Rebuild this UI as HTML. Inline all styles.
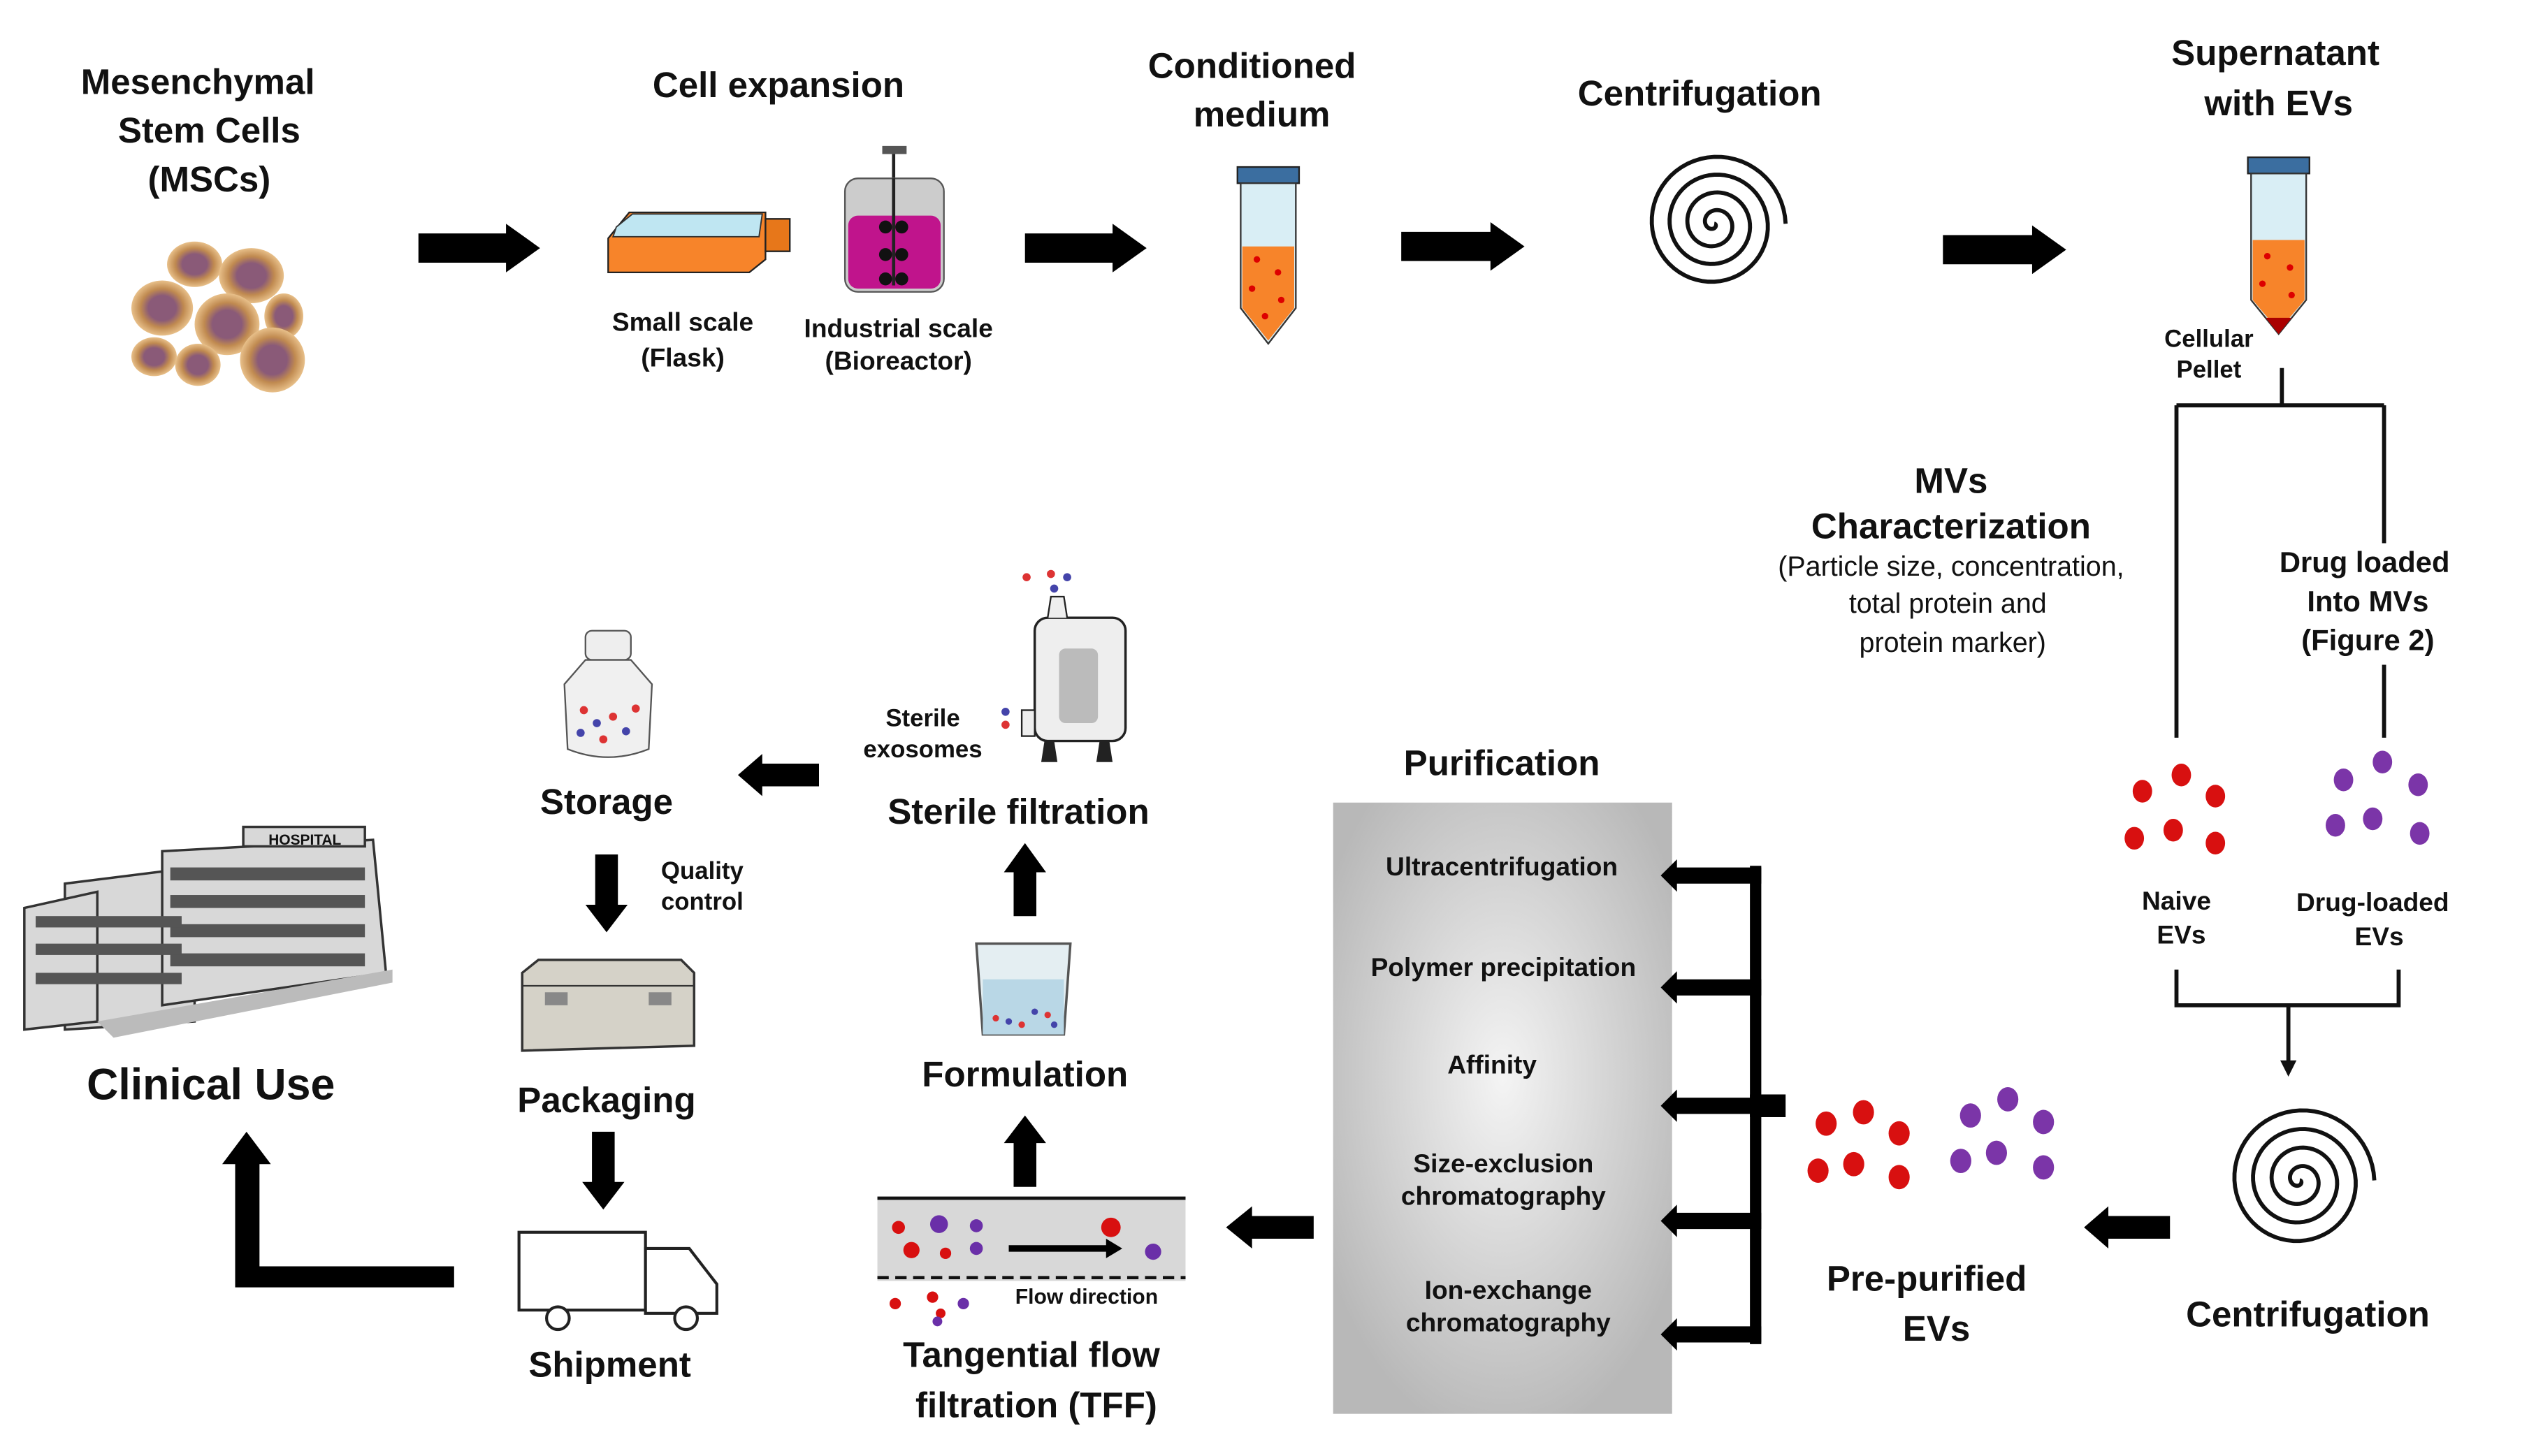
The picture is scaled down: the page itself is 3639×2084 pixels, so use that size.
<!DOCTYPE html>
<html><head><meta charset="utf-8"><style>
html,body{margin:0;padding:0;background:#fff;}
svg{display:block}
text{font-family:"Liberation Sans",Arial,sans-serif;font-weight:bold;fill:#111;text-anchor:middle}
.s{font-size:16px}.m{font-size:22px}.n{font-weight:normal;font-size:17px}
</style></head><body>
<svg width="3639" height="2084" viewBox="0 0 1568 898" preserveAspectRatio="none" xmlns="http://www.w3.org/2000/svg">
<defs>
<radialGradient id="g" cx="50%" cy="45%" r="60%"><stop offset="0" stop-color="#f4f4f4"/><stop offset="1" stop-color="#b8b8b8"/></radialGradient>
<radialGradient id="cell" cx="50%" cy="50%" r="50%"><stop offset="0.45" stop-color="#8a5a78"/><stop offset="0.7" stop-color="#c08a50"/><stop offset="1" stop-color="#e8c08a"/></radialGradient>
</defs>
<text class="m" x="122" y="58">Mesenchymal</text>
<text class="m" x="129" y="88">Stem Cells</text>
<text class="m" x="129" y="118">(MSCs)</text>
<text class="m" x="480" y="60">Cell  expansion</text>
<text class="m" x="772" y="48">Conditioned</text>
<text class="m" x="778" y="78">medium</text>
<text class="m" x="1048" y="65">Centrifugation</text>
<text class="m" x="1403" y="40">Supernatant</text>
<text class="m" x="1405" y="71">with EVs</text>
<g>
<ellipse cx="120" cy="163" rx="17" ry="14" fill="url(#cell)"/>
<ellipse cx="155" cy="170" rx="20" ry="17" fill="url(#cell)"/>
<ellipse cx="100" cy="190" rx="19" ry="17" fill="url(#cell)"/>
<ellipse cx="140" cy="200" rx="20" ry="19" fill="url(#cell)"/>
<ellipse cx="175" cy="195" rx="12" ry="14" fill="url(#cell)"/>
<ellipse cx="95" cy="220" rx="14" ry="12" fill="url(#cell)"/>
<ellipse cx="122" cy="225" rx="14" ry="13" fill="url(#cell)"/>
<ellipse cx="168" cy="222" rx="20" ry="20" fill="url(#cell)"/>
</g>
<g fill="#000">
<polygon points="258,144 312,144 312,138 333,153 312,168 312,162 258,162"/>
<polygon points="632,144 686,144 686,138 707,153 686,168 686,162 632,162"/>
<polygon points="864,143 919,143 919,137 940,152 919,167 919,161 864,161"/>
<polygon points="1198,145 1253,145 1253,139 1274,154 1253,169 1253,163 1198,163"/>
</g>
<polygon points="375,147 388,131 472,131 472,160 462,168 375,168" fill="#f7842a" stroke="#222"/>
<polygon points="380,140 390,132 470,132 468,146 378,146" fill="#bfe6f2" stroke="#333" stroke-width="0.8"/>
<rect x="472" y="135" width="15" height="20" fill="#e7771a" stroke="#222"/>
<text class="s" x="421" y="204">Small scale</text>
<text class="s" x="421" y="226">(Flask)</text>
<rect x="544" y="90" width="15" height="5" fill="#555"/>
<line x1="551" y1="95" x2="551" y2="176" stroke="#222" stroke-width="2"/>
<rect x="521" y="110" width="61" height="70" rx="8" fill="#ccc" stroke="#555"/>
<rect x="523" y="133" width="57" height="45" rx="6" fill="#c0148c"/>
<line x1="551" y1="110" x2="551" y2="176" stroke="#222" stroke-width="2"/>
<g fill="#111"><circle cx="546" cy="140" r="4"/><circle cx="556" cy="140" r="4"/><circle cx="546" cy="157" r="4"/><circle cx="556" cy="157" r="4"/><circle cx="546" cy="172" r="4"/><circle cx="556" cy="172" r="4"/></g>
<text class="s" x="554" y="208">Industrial scale</text>
<text class="s" x="554" y="228">(Bioreactor)</text>
<rect x="763" y="103" width="38" height="10" fill="#3b6ea0" stroke="#222"/>
<path d="M765,113 L799,113 L799,190 L782,212 L765,190 Z" fill="#d9eef5" stroke="#333"/>
<path d="M766,152 L798,152 L798,190 L782,210 L766,190 Z" fill="#f7842a"/>
<g fill="#d00"><circle cx="775" cy="160" r="2"/><circle cx="788" cy="168" r="2"/><circle cx="772" cy="178" r="2"/><circle cx="790" cy="185" r="2"/><circle cx="780" cy="195" r="2"/></g>
<rect x="1386" y="97" width="38" height="10" fill="#3b6ea0" stroke="#222"/>
<path d="M1388,107 L1422,107 L1422,185 L1405,206 L1388,185 Z" fill="#d9eef5" stroke="#333"/>
<path d="M1389,148 L1421,148 L1421,185 L1405,204 L1389,185 Z" fill="#f7842a"/>
<path d="M1397,196 L1413,196 L1405,206 Z" fill="#a00"/>
<g fill="#d00"><circle cx="1398" cy="158" r="2"/><circle cx="1412" cy="165" r="2"/><circle cx="1395" cy="175" r="2"/><circle cx="1413" cy="182" r="2"/></g>
<text x="1362" y="214" style="font-size:15px">Cellular</text>
<text x="1362" y="233" style="font-size:15px">Pellet</text>
<path id="sp1" fill="none" stroke="#111" stroke-width="2.5"/>
<path id="sp2" fill="none" stroke="#111" stroke-width="2.5"/>
<g stroke="#111" stroke-width="2.5" fill="none">
<path d="M1407,227 V250 M1342,250 H1470 M1342,250 V455 M1470,250 V335 M1470,410 V455"/>
<path d="M1342,598 V620 H1479 V598 M1411,620 V656"/>
</g>
<polygon points="1406,654 1416,654 1411,664" fill="#111"/>
<text class="m" x="1203" y="304">MVs</text>
<text class="m" x="1203" y="332">Characterization</text>
<text class="n" x="1203" y="355">(Particle size, concentration,</text>
<text class="n" x="1201" y="378">total protein and</text>
<text class="n" x="1204" y="402">protein marker)</text>
<text x="1458" y="353" style="font-size:18px">Drug loaded</text>
<text x="1460" y="377" style="font-size:18px">Into MVs</text>
<text x="1460" y="401" style="font-size:18px">(Figure 2)</text>
<g fill="#d81010"><ellipse cx="1321" cy="488" rx="6" ry="7"/><ellipse cx="1345" cy="478" rx="6" ry="7"/><ellipse cx="1366" cy="491" rx="6" ry="7"/><ellipse cx="1316" cy="517" rx="6" ry="7"/><ellipse cx="1340" cy="512" rx="6" ry="7"/><ellipse cx="1366" cy="520" rx="6" ry="7"/>
<ellipse cx="1126" cy="693" rx="6.5" ry="7.5"/><ellipse cx="1149" cy="686" rx="6.5" ry="7.5"/><ellipse cx="1171" cy="699" rx="6.5" ry="7.5"/><ellipse cx="1121" cy="722" rx="6.5" ry="7.5"/><ellipse cx="1143" cy="718" rx="6.5" ry="7.5"/><ellipse cx="1171" cy="726" rx="6.5" ry="7.5"/></g>
<g fill="#7b35a8"><ellipse cx="1445" cy="481" rx="6" ry="7"/><ellipse cx="1469" cy="470" rx="6" ry="7"/><ellipse cx="1491" cy="484" rx="6" ry="7"/><ellipse cx="1440" cy="509" rx="6" ry="7"/><ellipse cx="1463" cy="505" rx="6" ry="7"/><ellipse cx="1492" cy="514" rx="6" ry="7"/>
<ellipse cx="1215" cy="688" rx="6.5" ry="7.5"/><ellipse cx="1238" cy="678" rx="6.5" ry="7.5"/><ellipse cx="1260" cy="692" rx="6.5" ry="7.5"/><ellipse cx="1209" cy="716" rx="6.5" ry="7.5"/><ellipse cx="1231" cy="711" rx="6.5" ry="7.5"/><ellipse cx="1260" cy="720" rx="6.5" ry="7.5"/></g>
<text class="s" x="1342" y="561">Naive</text>
<text class="s" x="1345" y="582">EVs</text>
<text class="s" x="1463" y="562">Drug-loaded</text>
<text class="s" x="1467" y="583">EVs</text>
<text class="m" x="1423" y="818">Centrifugation</text>
<text class="m" x="1188" y="796">Pre-purified</text>
<text class="m" x="1194" y="827">EVs</text>
<g fill="#000">
<polygon points="1338,750 1300,750 1300,744 1285,757 1300,770 1300,764 1338,764"/>
<polygon points="810,750 772,750 772,744 756,757 772,770 772,764 810,764"/>
<polygon points="505,471 470,471 470,465 455,478 470,491 470,485 505,485"/>
</g>
<text class="m" x="926" y="478">Purification</text>
<rect x="822" y="495" width="209" height="377" fill="url(#g)"/>
<text class="s" x="926" y="540">Ultracentrifugation</text>
<text class="s" x="927" y="602">Polymer precipitation</text>
<text class="s" x="920" y="662">Affinity</text>
<text class="s" x="927" y="723">Size-exclusion</text>
<text class="s" x="927" y="743">chromatography</text>
<text class="s" x="930" y="801">Ion-exchange</text>
<text class="s" x="930" y="821">chromatography</text>
<g fill="#000">
<rect x="1079" y="534" width="7" height="295"/>
<rect x="1079" y="675" width="22" height="14"/>
<g id="ah"><polygon points="1086,535 1034,535 1034,530 1024,540 1034,550 1034,545 1086,545"/></g>
<use href="#ah" y="69"/><use href="#ah" y="142"/><use href="#ah" y="213"/><use href="#ah" y="283"/>
</g>
<rect x="541" y="738" width="190" height="52" fill="#d8d8d8"/>
<line x1="541" y1="739" x2="731" y2="739" stroke="#111" stroke-width="2"/>
<line x1="541" y1="788" x2="731" y2="788" stroke="#111" stroke-width="2" stroke-dasharray="7,4"/>
<g fill="#d81010"><circle cx="554" cy="757" r="4"/><circle cx="562" cy="771" r="5"/><circle cx="583" cy="773" r="3.5"/><circle cx="685" cy="757" r="6"/><circle cx="552" cy="804" r="3.5"/><circle cx="575" cy="800" r="3.5"/><circle cx="580" cy="810" r="3"/></g>
<g fill="#6a2fa8"><circle cx="579" cy="755" r="5.5"/><circle cx="602" cy="756" r="4"/><circle cx="602" cy="770" r="4"/><circle cx="711" cy="772" r="5"/><circle cx="594" cy="804" r="3.5"/><circle cx="578" cy="815" r="3"/></g>
<polygon points="622,768 682,768 682,764 692,770 682,776 682,772 622,772" fill="#000"/>
<text x="670" y="804" style="font-size:13px">Flow direction</text>
<text class="m" x="636" y="843">Tangential  flow</text>
<text class="m" x="639" y="874">filtration  (TFF)</text>
<g fill="#000">
<polygon points="625,732 625,705 619,705 632,688 645,705 639,705 639,732"/>
<polygon points="625,565 625,538 619,538 632,520 645,538 639,538 639,565"/>
<polygon points="367,527 367,558 361,558 374,575 387,558 381,558 381,527"/>
<polygon points="365,698 365,729 359,729 372,746 385,729 379,729 379,698"/>
<polygon points="280,781 160,781 160,718 167,718 152,698 137,718 145,718 145,794 280,794"/>
</g>
<path d="M602,582 L660,582 L656,638 L606,638 Z" fill="#e4eef2" stroke="#555" stroke-width="1.5"/>
<rect x="606" y="604" width="50" height="34" fill="#b9d7e6"/>
<g fill="#d33"><circle cx="614" cy="628" r="2"/><circle cx="630" cy="632" r="2"/><circle cx="646" cy="626" r="2"/></g>
<g fill="#44a"><circle cx="622" cy="630" r="2"/><circle cx="638" cy="624" r="2"/><circle cx="650" cy="632" r="2"/></g>
<text class="m" x="632" y="670">Formulation</text>
<rect x="638" y="381" width="56" height="76" rx="8" fill="#eee" stroke="#222" stroke-width="1.5"/>
<rect x="653" y="400" width="24" height="46" rx="4" fill="#bbb"/>
<path d="M646,381 L648,368 L656,368 L658,381" fill="#eee" stroke="#222"/>
<rect x="630" y="438" width="8" height="16" fill="#eee" stroke="#222"/>
<polygon points="644,457 650,457 652,470 642,470" fill="#222"/><polygon points="678,457 684,457 686,470 676,470" fill="#222"/>
<g fill="#d33"><circle cx="633" cy="356" r="2.5"/><circle cx="648" cy="354" r="2.5"/><circle cx="620" cy="447" r="2.5"/></g>
<g fill="#44a"><circle cx="658" cy="356" r="2.5"/><circle cx="650" cy="363" r="2.5"/><circle cx="620" cy="439" r="2.5"/></g>
<text x="569" y="448" style="font-size:15px">Sterile</text>
<text x="569" y="467" style="font-size:15px">exosomes</text>
<text class="m" x="628" y="508">Sterile  filtration</text>
<rect x="361" y="389" width="28" height="18" rx="4" fill="#eee" stroke="#555"/>
<path d="M361,407 L389,407 L402,422 L400,462 Q375,472 350,462 L348,422 Z" fill="#f0f0f0" stroke="#555"/>
<g fill="#d33"><circle cx="360" cy="438" r="2.5"/><circle cx="378" cy="442" r="2.5"/><circle cx="392" cy="437" r="2.5"/><circle cx="372" cy="456" r="2.5"/></g>
<g fill="#44a"><circle cx="368" cy="446" r="2.5"/><circle cx="386" cy="451" r="2.5"/><circle cx="358" cy="452" r="2.5"/></g>
<text class="m" x="374" y="502">Storage</text>
<text x="433" y="542" style="font-size:15px">Quality</text>
<text x="433" y="561" style="font-size:15px">control</text>
<path d="M322,600 L332,592 L420,592 L428,600 L428,645 L322,648 Z" fill="#d5d2c8" stroke="#333" stroke-width="1.5"/>
<line x1="322" y1="608" x2="428" y2="608" stroke="#333"/>
<rect x="336" y="612" width="14" height="8" fill="#888"/><rect x="400" y="612" width="14" height="8" fill="#888"/>
<text class="m" x="374" y="686">Packaging</text>
<g fill="#fff" stroke="#222" stroke-width="1.8">
<rect x="320" y="760" width="78" height="48"/>
<path d="M398,770 L425,770 L442,792 L442,810 L398,810 Z"/>
<circle cx="344" cy="813" r="7"/><circle cx="423" cy="813" r="7"/>
</g>
<text class="m" x="376" y="849">Shipment</text>
<g stroke="#333" stroke-width="1.5" fill="#d8d8d8">
<polygon points="40,545 120,535 120,630 40,635"/>
<polygon points="100,525 230,518 238,600 100,620"/>
<polygon points="15,560 60,550 60,630 15,635"/>
<rect x="150" y="510" width="75" height="12"/>
</g>
<g fill="#555">
<rect x="105" y="535" width="120" height="8"/><rect x="105" y="552" width="120" height="8"/><rect x="105" y="570" width="120" height="8"/><rect x="105" y="588" width="120" height="8"/>
<rect x="22" y="565" width="90" height="7"/><rect x="22" y="582" width="90" height="7"/><rect x="22" y="600" width="90" height="7"/>
</g>
<polygon points="60,630 242,598 242,606 70,640" fill="#bbb"/>
<text x="188" y="521" style="font-size:9px">HOSPITAL</text>
<text x="130" y="678" style="font-size:27px">Clinical Use</text>
<script>
function sp(id,cx,cy,R,turns){var d="";var n=turns*60;for(var i=0;i<=n;i++){var t=i/n;var a=t*turns*2*Math.PI;var r=R*t;var x=cx+r*Math.cos(a),y=cy+r*Math.sin(a);d+=(i?"L":"M")+x.toFixed(2)+","+y.toFixed(2);}document.getElementById(id).setAttribute("d",d);}
sp("sp1",1057,138,44,4);sp("sp2",1418,728,46,4);
</script>
</svg>
</body></html>
